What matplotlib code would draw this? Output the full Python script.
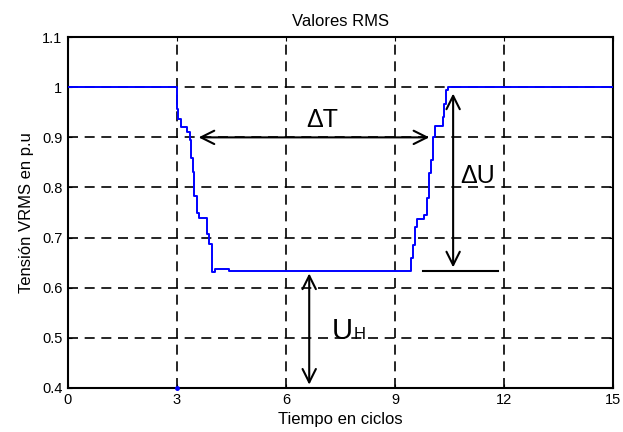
import matplotlib
matplotlib.use("Agg")
import matplotlib.pyplot as plt

plt.rcParams['font.family'] = ['Liberation Sans', 'DejaVu Sans']

# step-wise RMS curve (cycles, p.u.)
t_vals = [0.0, 3.0, 3.0, 3.03, 3.03, 3.10, 3.10, 3.27, 3.27, 3.35, 3.35, 3.39, 3.39,
          3.45, 3.45, 3.48, 3.48, 3.55, 3.55, 3.62, 3.62, 3.82, 3.82, 3.88, 3.88,
          3.96, 3.96, 4.05, 4.05, 4.42, 4.42, 9.43, 9.43, 9.49, 9.49, 9.55, 9.55,
          9.61, 9.61, 9.81, 9.81, 9.87, 9.87, 9.94, 9.94, 9.98, 9.98, 10.04, 10.04,
          10.10, 10.10, 10.31, 10.31, 10.36, 10.36, 10.40, 10.40, 10.47, 10.47, 15.0]
u_vals = [1.0, 1.0, 0.957, 0.957, 0.937, 0.937, 0.92, 0.92, 0.91, 0.91, 0.894, 0.894,
          0.858, 0.858, 0.831, 0.831, 0.784, 0.784, 0.749, 0.749, 0.739, 0.739, 0.708,
          0.708, 0.688, 0.688, 0.632, 0.632, 0.637, 0.637, 0.634, 0.634, 0.659, 0.659,
          0.685, 0.685, 0.722, 0.722, 0.737, 0.737, 0.745, 0.745, 0.779, 0.779, 0.828,
          0.828, 0.855, 0.855, 0.901, 0.901, 0.922, 0.922, 0.94, 0.94, 0.967, 0.967,
          0.994, 0.994, 1.0, 1.0]

x_ticks = [0, 3, 6, 9, 12, 15]
y_ticks = [0.4, 0.5, 0.6, 0.7, 0.8, 0.9, 1.0, 1.1]
y_labels = ['0.4', '0.5', '0.6', '0.7', '0.8', '0.9', '1', '1.1']

fig = plt.figure(figsize=(6.23, 4.32), dpi=100)
ax = fig.add_axes([0.109, 0.102, 0.875, 0.812])

ax.plot(t_vals, u_vals, color='#0000ff', lw=1.4, zorder=3)
ax.plot([3], [0.4], marker='o', ms=2.5, color='#0000ff', clip_on=False, zorder=4)

ax.set_xlim(0, 15)
ax.set_ylim(0.4, 1.1)
ax.set_xticks(x_ticks)
ax.set_yticks(y_ticks)
ax.set_yticklabels(y_labels)
ax.tick_params(direction='in', length=3, width=0.8, labelsize=10.5, top=True, right=True, pad=4)
ax.grid(True, color='black', linestyle=(0, (6, 4)), linewidth=1.2)
for s in ax.spines.values():
    s.set_linewidth(1.5)

ax.set_title('Valores RMS', fontsize=12, pad=8)
ax.set_xlabel('Tiempo en ciclos', fontsize=12, labelpad=3)
ax.set_ylabel('Tensión VRMS en p.u', fontsize=12, labelpad=6)

arrow = dict(arrowstyle='<->', color='black', lw=1.5, mutation_scale=24)
# Delta T
ax.annotate('', xy=(3.52, 0.9), xytext=(10.02, 0.9), arrowprops=arrow)
ax.text(7.0, 0.934, 'ΔT', fontsize=18, ha='center', va='center')
# Delta U
ax.annotate('', xy=(10.6, 0.993), xytext=(10.6, 0.635), arrowprops=arrow)
ax.text(10.8, 0.822, 'ΔU', fontsize=18, ha='left', va='center')
ax.plot([9.78, 11.84], [0.634, 0.634], color='black', lw=1.5)
# U_H
ax.annotate('', xy=(6.64, 0.634), xytext=(6.64, 0.401), arrowprops=arrow)
ax.text(7.25, 0.497, 'U', fontsize=21, ha='left', va='baseline')
ax.text(7.85, 0.497, 'H', fontsize=12, ha='left', va='baseline')

fig.savefig('out.png', dpi=100)
